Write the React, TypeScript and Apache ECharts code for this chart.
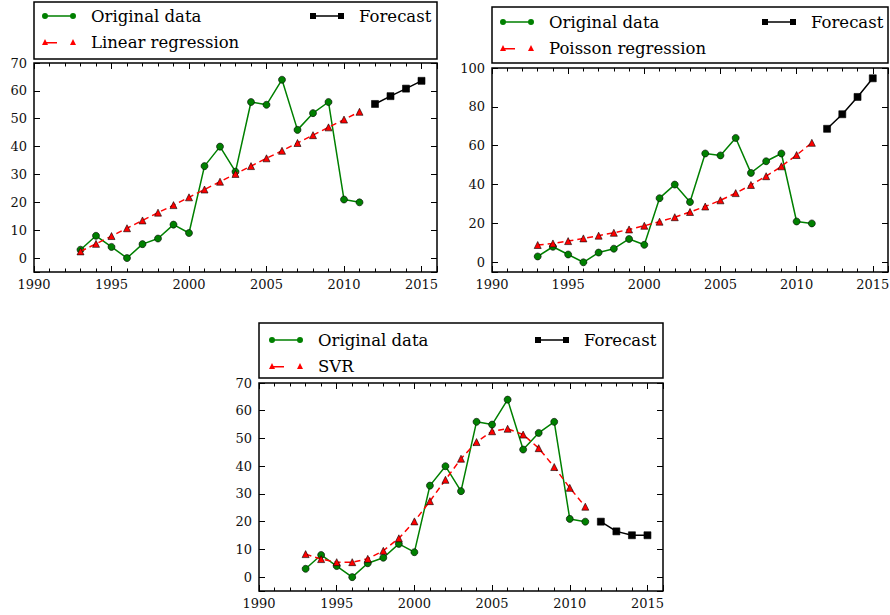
import React, { useEffect, useRef } from 'react';
import * as echarts from 'echarts';

// ---- data ----
const years = [1993, 1994, 1995, 1996, 1997, 1998, 1999, 2000, 2001, 2002, 2003, 2004, 2005, 2006, 2007, 2008, 2009, 2010, 2011];
const forecastYears = [2012, 2013, 2014, 2015];
const originalData = [3, 8, 4, 0, 5, 7, 12, 9, 33, 40, 31, 56, 55, 64, 46, 52, 56, 21, 20];
const linearFit = [2.4, 5.1, 7.9, 10.7, 13.5, 16.3, 19.0, 21.8, 24.6, 27.4, 30.2, 33.0, 35.8, 38.5, 41.3, 44.1, 46.9, 49.7, 52.5];
const linearForecast = [55.3, 58.1, 60.8, 63.6];
const poissonFit = [8.9, 9.7, 10.9, 12.3, 13.7, 15.2, 16.9, 18.8, 20.9, 23.2, 25.9, 28.7, 31.9, 35.6, 39.8, 44.3, 49.4, 55.2, 61.5];
const poissonForecast = [68.7, 76.2, 85.1, 94.7];
const svrFit = [8.3, 6.5, 5.4, 5.4, 6.6, 9.5, 14.0, 20.1, 27.4, 35.1, 42.7, 48.7, 52.6, 53.5, 51.4, 46.5, 39.7, 32.2, 25.4];
const svrForecast = [20.0, 16.5, 15.1, 15.1];
const fitNames = ['Linear regression', 'Poisson regression', 'SVR'];
const yMaxes = [70, 100, 70];
const ySplits = [8, 5, 8];

const FONT = "'DejaVu Serif', 'Liberation Serif', serif";

const circleIcon = 'path://M0 3 A3 3 0 1 1 6 3 A3 3 0 1 1 0 3 Z M28 3 A3 3 0 1 1 34 3 A3 3 0 1 1 28 3 Z M3 2.3 L31 2.3 L31 3.7 L3 3.7 Z';
const triIcon = 'path://M0 6 L3 0 L6 6 Z M28 6 L31 0 L34 6 Z M3 3.1 L15 3.1 L15 4.5 L3 4.5 Z';
const rectIcon = 'path://M0 0 L6 0 L6 6 L0 6 Z M28 0 L34 0 L34 6 L28 6 Z M3 2.3 L31 2.3 L31 3.7 L3 3.7 Z';

const layouts = [
  { grid: { left: 34, top: 63, width: 403, height: 209 }, box: { x: 34, y: 2, width: 403, height: 57 }, legL: { left: 42, top: 7 }, legR: { left: 310, top: 7 } },
  { grid: { left: 492, top: 68, width: 396, height: 204 }, box: { x: 492, y: 7, width: 396, height: 56 }, legL: { left: 500, top: 13 }, legR: { left: 762, top: 13 } },
  { grid: { left: 259, top: 383, width: 404, height: 208 }, box: { x: 259, y: 323, width: 404, height: 55 }, legL: { left: 269, top: 331 }, legR: { left: 535, top: 331 } },
];

export default function App() {
  const ref = useRef<HTMLDivElement>(null);
  useEffect(() => {
    document.body.style.margin = '0';
    if (!ref.current) return;
    const chart = echarts.init(ref.current, null, { renderer: 'svg' });
    const fits = [linearFit, poissonFit, svrFit];
    const forecasts = [linearForecast, poissonForecast, svrForecast];

    const grids: any[] = [];
    const xAxes: any[] = [];
    const yAxes: any[] = [];
    const series: any[] = [];
    const legends: any[] = [];
    const graphics: any[] = [];

    const tickStyle = { color: '#000', width: 1 };
    const legendText = { fontFamily: FONT, fontSize: 16.5, color: '#000', lineHeight: 18, padding: [0, 0, 0, 10] };

    layouts.forEach((L, i) => {
      grids.push({ ...L.grid, show: true, borderColor: '#000', borderWidth: 1.5, backgroundColor: 'transparent', containLabel: false, outerBoundsMode: 'none' });
      const xb = {
        type: 'value', gridIndex: i, min: 1990, max: 2016,
        axisLine: { show: false, onZero: false }, splitLine: { show: false },
      };
      const majorTick = { show: true, inside: true, length: 6, lineStyle: tickStyle };
      const minorTick = { show: true, inside: true, length: 3.5, lineStyle: tickStyle };
      xAxes.push({
        ...xb, position: 'bottom', interval: 5, axisTick: majorTick,
        axisLabel: { margin: 6, color: '#111', fontFamily: FONT, fontSize: 13, formatter: (v: number) => (v % 5 === 0 ? String(v) : '') },
      });
      xAxes.push({ ...xb, position: 'top', interval: 5, axisTick: majorTick, axisLabel: { show: false } });
      xAxes.push({ ...xb, position: 'bottom', interval: 1, axisTick: minorTick, axisLabel: { show: false } });
      xAxes.push({ ...xb, position: 'top', interval: 1, axisTick: minorTick, axisLabel: { show: false } });
      const yb = {
        type: 'value', gridIndex: i, min: -5, max: yMaxes[i], splitNumber: ySplits[i],
        axisLine: { show: false, onZero: false }, splitLine: { show: false },
        axisTick: majorTick,
      };
      yAxes.push({
        ...yb, position: 'left',
        axisLabel: { margin: 7, color: '#111', fontFamily: FONT, fontSize: 13, formatter: (v: number) => (v < 0 ? '' : String(v)) },
      });
      yAxes.push({ ...yb, position: 'right', axisLabel: { show: false } });

      const xi = i * 4;
      const yi = i * 2;
      series.push({
        type: 'line', name: 'Original data', xAxisIndex: xi, yAxisIndex: yi,
        data: years.map((y, k) => [y, originalData[k]]),
        symbol: 'circle', symbolSize: 7, showSymbol: true,
        lineStyle: { color: '#008000', width: 1.5 },
        itemStyle: { color: '#008000', borderColor: '#000', borderWidth: 0.6 },
        z: 2,
      });
      series.push({
        type: 'line', name: fitNames[i], xAxisIndex: xi, yAxisIndex: yi,
        data: years.map((y, k) => [y, fits[i][k]]),
        symbol: 'triangle', symbolSize: 7, showSymbol: true,
        lineStyle: { color: '#ff0000', width: 1.5, type: [6, 4] },
        itemStyle: { color: '#ff0000', borderColor: '#000', borderWidth: 0.6 },
        z: 3,
      });
      series.push({
        type: 'line', name: 'Forecast', xAxisIndex: xi, yAxisIndex: yi,
        data: forecastYears.map((y, k) => [y, forecasts[i][k]]),
        symbol: 'rect', symbolSize: 7, showSymbol: true,
        lineStyle: { color: '#000', width: 1.5 },
        itemStyle: { color: '#000', borderColor: '#000', borderWidth: 0.6 },
        z: 4,
      });

      legends.push({
        orient: 'vertical', left: L.legL.left, top: L.legL.top, itemWidth: 34, itemHeight: 6, itemGap: 8, padding: 0,
        selectedMode: false, textStyle: legendText,
        data: [
          { name: 'Original data', icon: circleIcon, itemStyle: { color: '#008000', borderWidth: 0 } },
          { name: fitNames[i], icon: triIcon, itemStyle: { color: '#ff0000', borderWidth: 0 } },
        ],
      });
      legends.push({
        orient: 'vertical', left: L.legR.left, top: L.legR.top, itemWidth: 34, itemHeight: 6, itemGap: 8, padding: 0,
        selectedMode: false, textStyle: legendText,
        data: [{ name: 'Forecast', icon: rectIcon, itemStyle: { color: '#000', borderWidth: 0 } }],
      });
      graphics.push({
        type: 'rect', shape: { ...L.box }, style: { fill: 'transparent', stroke: '#000', lineWidth: 1.5 }, z: 0, silent: true,
      });
    });

    chart.setOption({
      animation: false,
      backgroundColor: '#fff',
      grid: grids,
      xAxis: xAxes,
      yAxis: yAxes,
      series,
      legend: legends,
      graphic: graphics,
    });
    return () => chart.dispose();
  }, []);
  return <div ref={ref} style={{ width: 890, height: 615 }} />;
}
